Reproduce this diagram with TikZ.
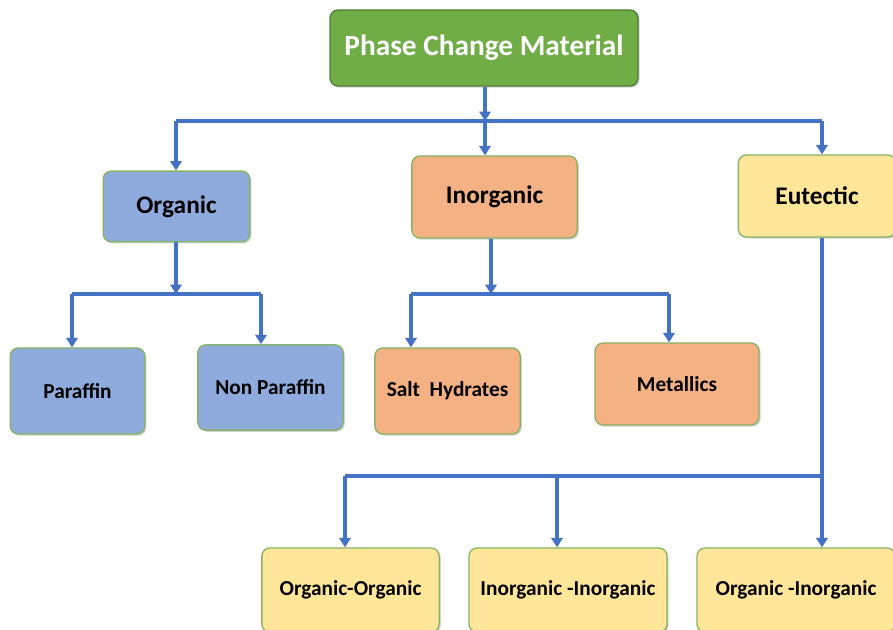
\documentclass[tikz,border=0pt]{standalone}
\usepackage{fontspec}
\setmainfont{Carlito}
\usetikzlibrary{arrows.meta,shadows}
\definecolor{cline}{HTML}{4472C4}
\definecolor{cgreen}{HTML}{70AD47}
\definecolor{cgreenb}{HTML}{507E32}
\definecolor{cblue}{HTML}{8FAADC}
\definecolor{corange}{HTML}{F4B183}
\definecolor{cyellow}{HTML}{FFE699}
\definecolor{cborder}{HTML}{86B463}
\tikzset{
  box/.style={draw=cborder, line width=1pt, rounded corners=6pt, align=center,
    drop shadow={opacity=0.35, shadow xshift=1.2pt, shadow yshift=-1.2pt}},
  conn/.style={draw=cline, line width=2.4pt},
  arr/.style={conn, -{Triangle[length=7pt,width=8.5pt]}},
  bigtxt/.style={font=\bfseries\fontsize{19}{22}\selectfont},
  smalltxt/.style={font=\bfseries\fontsize{16}{19}\selectfont},
}
\begin{document}
\begin{tikzpicture}[x=0.75pt,y=-0.75pt]
\useasboundingbox (0,0) rectangle (893,630);
\clip (0,0) rectangle (893,630);
% nodes
\node[box, fill=cgreen, draw=cgreenb, text=white, font=\bfseries\fontsize{22}{26}\selectfont,
  minimum width=231pt, minimum height=57pt] (pcm) at (484,48) {Phase Change Material};
\node[box, fill=cblue, bigtxt, minimum width=110pt, minimum height=53pt] (org) at (176.5,206.5) {Organic};
\node[box, fill=corange, bigtxt, minimum width=124pt, minimum height=61.5pt] (inorg) at (494.5,197) {Inorganic};
\node[box, fill=cyellow, bigtxt, minimum width=118pt, minimum height=61.5pt] (eut) at (817,196) {Eutectic};
\node[box, fill=cblue, smalltxt, minimum width=101pt, minimum height=64.5pt] (par) at (77.5,391) {Paraffin};
\node[box, fill=cblue, smalltxt, minimum width=109pt, minimum height=64pt] (npar) at (270.5,387.5) {Non Paraffin};
\node[box, fill=corange, smalltxt, minimum width=109pt, minimum height=64.5pt] (salt) at (447.5,391) {Salt\ \ Hydrates};
\node[box, fill=corange, smalltxt, minimum width=123pt, minimum height=61.5pt] (met) at (677,384) {Metallics};
\node[box, fill=cyellow, smalltxt, minimum width=133pt, minimum height=63pt] (oo) at (350.5,590) {Organic-Organic};
\node[box, fill=cyellow, smalltxt, minimum width=148.5pt, minimum height=63pt] (ii) at (568,590) {Inorganic -Inorganic};
\node[box, fill=cyellow, smalltxt, minimum width=148.5pt, minimum height=63pt] (oi) at (796,590) {Organic -Inorganic};
% junctions
\coordinate (j0) at (485,121);
\coordinate (j1) at (176,294);
\coordinate (j2) at (491,294);
\coordinate (j3) at (822,476);
% top level
\draw[arr] (pcm.south -| j0) -- (j0);
\draw[conn] (176,121) -- (822,121);
\draw[arr] (176,121) -- (176,121 |- org.north);
\draw[arr] (j0) -- (j0 |- inorg.north);
\draw[arr] (822,121) -- (822,121 |- eut.north);
% organic
\draw[arr] (org.south -| j1) -- (j1);
\draw[conn] (72,294) -- (261,294);
\draw[arr] (72,294) -- (72,294 |- par.north);
\draw[arr] (261,294) -- (261,294 |- npar.north);
% inorganic
\draw[arr] (inorg.south -| j2) -- (j2);
\draw[conn] (411,294) -- (669,294);
\draw[arr] (411,294) -- (411,294 |- salt.north);
\draw[arr] (669,294) -- (669,294 |- met.north);
% eutectic
\draw[conn] (eut.south -| j3) -- (j3);
\draw[conn] (345,476) -- (j3);
\draw[arr] (345,476) -- (345,476 |- oo.north);
\draw[arr] (557,476) -- (557,476 |- ii.north);
\draw[arr] (j3) -- (j3 |- oi.north);
\end{tikzpicture}
\end{document}
